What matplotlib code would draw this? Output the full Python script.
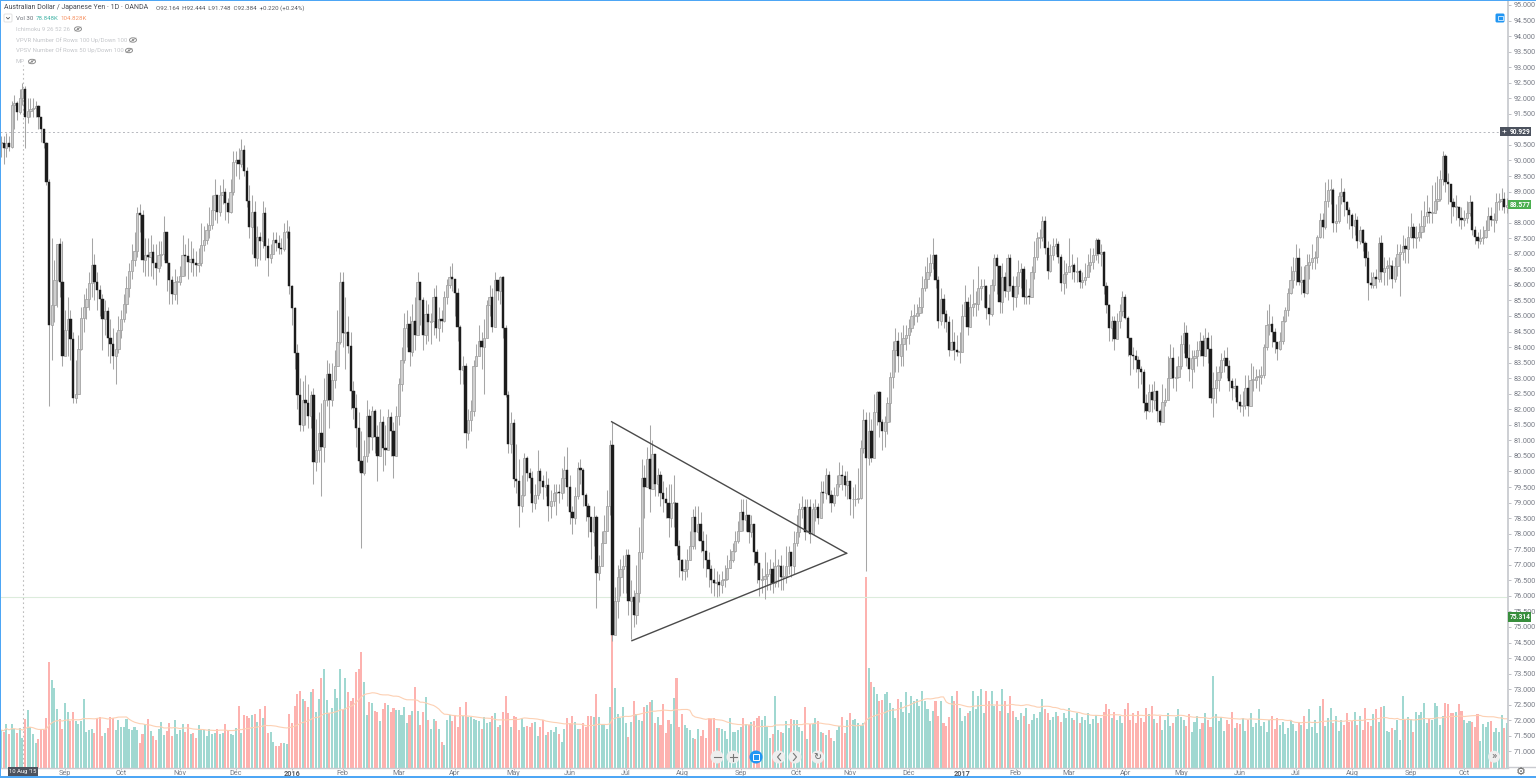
import matplotlib
matplotlib.use("Agg")
import matplotlib.pyplot as plt
import numpy as np
import pandas as pd
from matplotlib.patches import Circle, Ellipse, FancyBboxPatch, Rectangle

FONT = ["Roboto", "DejaVu Sans"]
plt.rcParams["font.family"] = FONT

# AUD/JPY daily, one row per month
closes = [
    90.55, 90.40, 90.55, 90.45, 91.80, 91.85, 91.55, 92.00, 92.30, 91.40, 91.60, 91.65, 91.70, 91.75, 91.40, 91.00, 90.55, 89.30, 84.70, 85.35, 86.15, 87.30, 86.10, 83.70,
    84.55, 84.90, 84.25, 82.35, 82.50, 83.95, 84.95, 85.30, 85.55, 86.05, 86.65, 86.10, 85.85, 85.55, 84.90, 85.15, 84.30, 84.10, 83.70, 83.95, 84.55,
    84.90, 85.40, 85.90, 86.45, 86.80, 87.10, 88.30, 88.25, 86.80, 86.95, 86.90, 87.05, 86.70, 86.55, 86.95, 87.00, 87.70, 86.70, 86.15, 85.70, 86.10, 86.10,
    86.29, 86.96, 86.93, 86.74, 86.83, 86.70, 86.64, 86.70, 87.28, 87.44, 87.77, 87.93, 88.41, 88.89, 88.34, 88.89, 88.99, 88.63, 88.34, 88.99, 89.95,
    90.00, 89.90, 90.35, 89.65, 88.70, 87.85, 88.35, 86.85, 87.55, 87.40, 88.30, 87.25, 86.85, 87.00, 87.45, 87.35, 87.20, 87.15, 87.70, 87.70, 85.95,
    85.25, 83.80, 82.45, 81.50, 82.30, 82.20, 81.80, 82.45, 80.30, 80.70, 81.25, 80.80, 82.30, 83.15, 82.30, 82.95, 83.40, 84.15, 86.10,
    84.45, 84.50, 84.05, 82.60, 82.05, 81.40, 80.35, 79.95, 80.50, 81.80, 81.10, 81.95, 81.10, 80.50, 81.60, 80.75, 80.70, 81.75, 81.30, 80.50, 81.80,
    82.80, 83.60, 84.60, 84.75, 83.85, 84.85, 84.40, 86.10, 85.50, 84.40, 85.05, 84.80, 84.85, 85.60, 84.60, 84.90, 84.85, 85.60, 86.00, 86.25, 86.20,
    85.75, 84.65, 83.25, 83.40, 81.25, 81.65, 81.95, 83.40, 83.70, 84.20, 84.00, 84.30, 85.35, 85.60, 84.65, 86.15, 85.80, 86.25, 84.60, 82.45, 80.90, 81.55,
    79.75, 79.70, 78.90, 79.25, 80.45, 79.95, 79.80, 79.00, 79.25, 80.00, 79.70, 79.50, 79.55, 78.90, 79.05, 79.30, 79.35, 79.30, 79.80, 80.05, 79.50,
    78.70, 78.50, 79.20, 80.10, 80.05, 79.25, 78.90, 78.55, 78.05, 78.55, 76.75, 76.95, 77.70, 78.10, 78.90, 80.85, 74.75, 75.85, 76.60, 76.85, 76.95,
    77.30, 75.85, 75.95, 75.40, 76.10, 77.40, 79.80, 79.50, 80.40, 79.45, 80.55, 79.60, 79.90, 79.30, 79.10, 79.00, 78.50, 79.00, 79.00, 77.60, 77.15,
    76.80, 76.85, 77.15, 77.60, 78.55, 78.05, 78.30, 77.75, 77.45, 77.15, 76.85, 76.50, 76.40, 76.45, 76.35, 76.50, 76.55, 76.90, 77.15, 77.45, 77.75, 78.10,
    78.70, 78.45, 78.60, 78.05, 78.30, 77.40, 77.05, 76.50, 76.55, 76.65, 76.70, 76.85, 76.40, 76.95, 76.95, 76.60, 76.65, 76.95, 77.40, 76.95, 77.70,
    78.05, 78.80, 78.85, 78.05, 78.85, 78.00, 78.80, 78.85, 78.50, 79.35, 79.30, 79.90, 79.25, 79.00, 79.25, 79.60, 79.90, 79.85, 79.55, 79.70,
    79.10, 79.10, 79.10, 79.15, 80.75, 81.65, 80.45, 81.30, 80.45, 81.90, 82.55, 81.60, 81.30, 81.60, 82.20, 83.05, 83.90, 84.20, 83.70, 84.10, 84.30, 84.40,
    84.60, 85.00, 85.00, 85.10, 85.30, 85.90, 86.20, 86.40, 86.70, 86.95, 86.15, 84.85, 85.55, 85.05, 84.80, 83.90, 84.15, 83.90, 83.85, 83.85,
    85.00, 85.45, 84.65, 85.30, 85.40, 85.40, 85.90, 85.95, 85.95, 85.25, 85.05, 86.00, 86.85, 86.60, 85.45, 86.25, 85.80, 86.85, 85.95, 85.60,
    85.95, 86.40, 86.50, 85.60, 85.65, 85.60, 86.40, 86.90, 87.50, 87.55, 88.05, 87.20, 86.45, 86.95, 87.25, 87.30, 86.90, 86.05, 86.35, 86.40,
    86.60, 86.65, 86.40, 86.45, 86.10, 86.15, 86.25, 86.65, 86.75, 86.95, 87.45, 87.00, 87.05, 85.95, 85.35, 84.60, 84.85, 84.25, 84.85, 85.15, 85.60,
    84.95, 84.30, 83.75, 83.70, 83.60, 83.30, 83.20, 82.20, 81.95, 82.55, 82.30, 82.60, 81.95, 81.60, 82.25, 82.30, 83.00, 83.65, 83.00, 83.05, 83.40,
    84.10, 84.45, 83.65, 83.30, 83.65, 83.70, 83.90, 84.20, 83.70, 84.30, 83.95, 82.35, 82.70, 82.95, 83.20, 83.60, 83.65, 83.40, 82.90, 82.70, 82.75, 82.25,
    82.10, 82.15, 82.70, 82.10, 82.95, 82.95, 83.05, 83.05, 83.10, 84.00, 84.70, 84.75, 84.50, 84.15, 83.95, 84.20, 84.85, 85.20, 85.75, 86.15, 86.45,
    86.85, 86.10, 86.15, 85.75, 86.65, 86.75, 86.85, 86.90, 87.55, 88.10, 87.85, 88.70, 89.05, 89.05, 88.00, 88.05, 88.85, 89.00, 88.65, 88.40, 88.25,
    87.90, 88.10, 87.40, 87.75, 87.35, 86.85, 86.05, 86.00, 86.25, 86.20, 87.35, 86.40, 86.55, 86.60, 86.60, 86.20, 86.60, 87.00, 87.05, 87.25, 87.15, 87.55,
    87.85, 87.50, 87.55, 87.70, 87.90, 88.20, 88.35, 88.30, 88.30, 88.70, 88.75, 89.40, 90.15, 89.30, 89.25, 88.65, 88.50, 88.50, 88.15, 88.10,
    88.15, 88.30, 88.65, 87.75, 87.55, 87.40, 87.50, 87.55, 87.75, 88.20, 88.10, 88.10, 88.65, 88.70, 88.75, 88.50, 88.58,
]
highs = [
    90.8, 90.8, 90.9, 90.8, 91.9, 92.1, 91.9, 92.3, 92.5, 92.4, 92.0, 92.0, 92.0, 91.9, 91.8, 91.4, 91.0, 90.6, 89.4, 87.5, 86.8, 87.3, 87.5, 87.4,
    85.2, 85.6, 85.2, 84.5, 83.6, 84.4, 85.3, 85.7, 85.9, 86.4, 87.5, 87.0, 86.4, 86.0, 85.7, 85.5, 85.3, 84.9, 84.6, 84.5, 85.0,
    85.2, 85.7, 86.3, 86.7, 87.3, 87.7, 88.5, 88.6, 88.4, 87.5, 87.5, 87.6, 87.3, 87.3, 87.4, 87.4, 88.2, 87.7, 86.7, 86.3, 86.5, 86.3,
    86.6, 87.6, 87.3, 87.5, 87.4, 87.2, 87.1, 87.2, 88.0, 87.9, 88.0, 88.5, 88.9, 89.4, 88.9, 89.2, 89.4, 89.1, 88.8, 89.4, 90.3,
    90.3, 90.4, 90.7, 90.5, 89.8, 89.2, 88.9, 88.7, 87.9, 87.7, 88.7, 88.5, 87.5, 87.3, 87.7, 87.7, 87.6, 87.5, 88.0, 88.1, 87.9,
    86.0, 85.3, 84.1, 83.0, 82.9, 83.1, 82.8, 82.6, 82.7, 81.7, 81.9, 82.2, 83.0, 83.6, 83.5, 83.5, 83.9, 85.2, 86.4,
    86.4, 85.6, 85.0, 84.5, 82.9, 82.5, 81.9, 81.3, 81.0, 82.3, 82.0, 82.1, 82.0, 81.5, 82.0, 81.8, 81.5, 82.0, 81.9, 81.6, 82.1,
    83.0, 84.0, 85.1, 85.2, 85.0, 85.4, 85.6, 86.4, 85.8, 85.6, 85.5, 85.4, 85.1, 85.9, 86.0, 85.3, 85.2, 85.8, 86.2, 86.6, 86.7,
    86.0, 85.9, 84.7, 83.7, 83.5, 82.0, 82.3, 83.6, 84.1, 84.7, 84.5, 84.9, 85.5, 86.0, 85.9, 86.4, 86.0, 86.3, 86.3, 84.7, 82.6, 81.9,
    81.7, 80.9, 80.4, 79.9, 80.6, 80.5, 80.1, 80.0, 79.6, 80.7, 80.1, 79.9, 80.0, 79.8, 79.4, 79.6, 79.6, 79.6, 80.1, 80.5, 80.8,
    79.9, 78.9, 79.5, 80.3, 80.4, 80.1, 79.3, 79.0, 78.4, 78.9, 78.6, 77.3, 78.1, 78.6, 79.4, 81.0, 81.6, 76.3, 77.0, 77.2, 77.3,
    77.5, 77.5, 76.5, 76.2, 77.0, 78.2, 80.4, 80.2, 80.8, 81.5, 81.0, 80.2, 80.1, 80.0, 79.7, 79.5, 79.6, 79.6, 79.9, 79.0, 77.8,
    77.2, 77.2, 77.5, 78.1, 78.8, 78.9, 78.9, 78.7, 78.1, 78.0, 77.4, 77.0, 76.9, 76.8, 76.7, 76.8, 77.0, 77.3, 77.5, 77.7, 78.1, 78.4,
    79.1, 79.1, 79.1, 78.5, 78.6, 78.3, 77.5, 77.0, 76.9, 77.4, 77.1, 77.2, 77.1, 77.5, 77.2, 77.3, 77.0, 77.6, 77.6, 77.4, 78.1,
    78.6, 79.0, 79.2, 79.1, 79.1, 79.1, 79.0, 79.1, 79.0, 79.7, 79.7, 80.1, 80.0, 79.4, 79.5, 79.9, 80.3, 80.2, 80.0, 80.0,
    79.6, 79.5, 79.6, 80.1, 81.0, 82.0, 81.9, 81.9, 81.7, 82.5, 82.6, 82.6, 81.7, 81.8, 82.4, 83.2, 84.2, 84.6, 84.5, 84.5, 84.7, 84.7,
    84.9, 85.2, 85.4, 85.4, 85.6, 86.3, 86.6, 86.9, 87.0, 87.5, 87.0, 86.3, 85.9, 85.7, 85.2, 85.0, 84.9, 84.5, 84.4, 84.5,
    85.4, 86.0, 85.6, 85.7, 86.2, 85.8, 86.6, 86.2, 86.2, 86.0, 85.7, 86.2, 87.0, 87.0, 86.6, 86.7, 86.4, 87.0, 87.0, 86.3,
    86.3, 86.8, 86.7, 86.6, 86.2, 85.9, 86.6, 87.4, 87.7, 87.8, 88.2, 88.2, 87.4, 87.3, 87.5, 87.5, 87.4, 87.0, 86.8, 86.7,
    87.5, 87.0, 86.7, 86.9, 86.5, 86.4, 86.7, 87.0, 87.2, 87.2, 87.5, 87.5, 87.3, 87.1, 86.1, 85.4, 85.0, 85.0, 85.1, 85.4, 85.8,
    85.7, 85.0, 84.3, 84.0, 83.9, 83.7, 83.4, 83.3, 82.5, 82.8, 82.8, 82.9, 82.5, 82.0, 82.8, 82.7, 83.7, 84.1, 84.0, 83.4, 83.7,
    84.4, 84.8, 84.7, 84.1, 83.9, 83.9, 84.2, 84.5, 84.4, 84.6, 84.5, 84.4, 83.2, 83.4, 83.4, 83.8, 83.9, 84.0, 83.6, 83.0, 83.0, 82.7,
    82.5, 82.6, 83.1, 83.1, 83.5, 83.4, 83.3, 83.3, 83.4, 84.1, 85.2, 85.4, 85.0, 84.6, 84.1, 84.5, 85.0, 85.3, 85.9, 86.6, 86.9,
    87.3, 87.2, 86.6, 86.6, 87.0, 87.0, 87.3, 87.1, 87.6, 88.3, 88.3, 89.3, 89.4, 89.4, 89.1, 88.6, 89.0, 89.45, 89.1, 88.7, 88.5,
    88.3, 88.3, 88.2, 87.9, 87.8, 87.4, 87.1, 86.4, 86.4, 86.5, 87.55, 87.6, 86.9, 86.8, 86.9, 86.8, 86.9, 87.3, 87.3, 87.6, 87.5, 87.9,
    88.3, 88.0, 87.9, 88.0, 88.4, 88.7, 88.9, 88.5, 89.2, 89.3, 89.5, 89.7, 90.3, 90.2, 89.6, 89.2, 88.8, 88.9, 88.5, 88.5,
    88.4, 88.7, 88.9, 88.7, 87.9, 87.7, 87.8, 87.9, 88.1, 88.5, 88.5, 88.3, 88.95, 88.95, 89.1, 89.0, 88.8,
]
lows = [
    90.1, 89.9, 90.1, 90.3, 90.4, 91.0, 91.3, 91.5, 91.8, 90.4, 91.2, 91.4, 91.4, 91.4, 91.0, 90.6, 90.4, 89.2, 82.1, 83.6, 84.8, 85.3, 85.6, 83.4,
    83.9, 83.7, 83.6, 82.2, 82.2, 82.5, 83.9, 84.5, 84.9, 85.2, 85.6, 85.5, 85.2, 85.0, 83.9, 84.4, 83.7, 83.5, 83.3, 82.8, 83.8,
    84.3, 84.8, 85.1, 85.6, 86.2, 86.6, 86.9, 87.7, 86.4, 86.3, 86.3, 86.3, 86.2, 86.0, 86.4, 86.6, 86.8, 85.8, 85.4, 85.4, 85.5, 85.4,
    86.0, 86.3, 86.3, 86.2, 86.4, 86.3, 86.3, 86.4, 86.6, 87.1, 87.3, 87.5, 87.8, 88.1, 88.0, 88.2, 88.6, 88.1, 88.0, 88.3, 88.9,
    89.5, 89.4, 89.8, 89.5, 88.5, 87.5, 87.0, 86.6, 86.6, 86.8, 87.2, 86.8, 86.3, 86.7, 87.0, 87.1, 87.0, 87.0, 87.1, 87.5, 85.7,
    84.7, 83.3, 82.0, 81.3, 81.3, 81.5, 81.4, 81.4, 79.6, 80.0, 80.3, 79.2, 80.3, 82.1, 81.4, 82.1, 82.7, 83.6, 84.1,
    84.0, 83.3, 83.8, 82.0, 81.7, 80.8, 80.0, 77.55, 79.9, 80.3, 80.6, 80.7, 80.6, 79.7, 80.8, 80.0, 80.2, 80.9, 80.5, 79.8, 80.5,
    81.5, 82.6, 83.5, 84.0, 83.4, 83.7, 83.9, 84.9, 84.7, 83.9, 84.1, 84.2, 84.1, 84.4, 84.3, 84.2, 84.5, 84.8, 85.4, 85.9, 85.8,
    85.0, 84.2, 82.8, 82.8, 80.75, 81.0, 81.3, 81.8, 83.4, 83.9, 83.3, 82.5, 84.7, 85.0, 84.5, 85.0, 85.5, 85.4, 84.3, 82.4, 80.6, 80.6,
    79.5, 79.3, 78.2, 78.7, 79.2, 79.7, 79.3, 78.7, 78.8, 79.1, 79.3, 79.1, 79.2, 78.4, 78.5, 78.9, 78.6, 79.0, 79.1, 79.3, 78.9,
    78.3, 78.0, 78.3, 79.1, 79.6, 78.9, 78.4, 77.9, 77.2, 77.6, 75.6, 76.5, 77.4, 77.7, 78.4, 78.6, 74.55, 74.8, 75.3, 76.0, 76.1,
    76.1, 75.4, 74.6, 75.0, 75.1, 75.8, 77.2, 78.5, 79.5, 78.7, 79.5, 79.2, 79.2, 78.9, 78.7, 78.5, 77.9, 78.2, 78.2, 77.3, 76.6,
    76.5, 76.5, 76.6, 77.2, 77.5, 77.5, 77.8, 77.4, 76.9, 76.6, 76.3, 76.1, 76.0, 75.95, 76.0, 76.1, 76.3, 76.5, 76.9, 77.1, 77.4, 77.7,
    78.3, 78.1, 78.1, 77.7, 77.9, 77.0, 76.4, 76.0, 76.1, 75.9, 76.2, 76.2, 76.1, 76.3, 76.3, 76.2, 76.2, 76.4, 76.7, 76.6, 76.7,
    77.6, 77.9, 78.5, 77.8, 78.2, 77.7, 78.4, 78.4, 78.3, 78.7, 79.0, 79.1, 79.0, 78.7, 78.9, 79.2, 79.5, 79.4, 79.2, 79.1,
    78.6, 78.5, 78.9, 79.0, 79.1, 80.6, 76.8, 80.2, 80.3, 80.5, 81.5, 81.1, 80.7, 80.8, 81.2, 81.6, 82.7, 83.2, 83.2, 83.4, 83.4, 83.9,
    84.1, 84.5, 84.7, 84.8, 85.0, 85.1, 85.8, 85.9, 86.3, 86.5, 85.9, 84.6, 84.7, 84.6, 84.5, 83.7, 83.9, 83.6, 83.7, 83.5,
    84.5, 85.0, 84.4, 84.8, 85.0, 85.0, 85.2, 85.5, 85.3, 84.9, 84.7, 85.0, 85.8, 85.7, 85.1, 85.1, 85.6, 85.5, 85.8, 85.2,
    85.3, 85.7, 85.9, 85.4, 85.4, 85.4, 85.6, 86.2, 86.8, 87.2, 87.4, 87.0, 86.2, 86.4, 86.8, 87.0, 86.7, 85.8, 85.7, 85.9,
    86.4, 86.2, 86.1, 86.1, 85.9, 85.9, 86.0, 86.3, 86.4, 86.5, 86.8, 86.7, 86.6, 85.7, 85.1, 84.2, 84.2, 83.9, 84.4, 84.6, 85.0,
    84.9, 83.7, 83.1, 83.3, 83.2, 82.7, 82.8, 81.9, 81.7, 81.9, 81.9, 82.0, 81.6, 81.5, 81.7, 82.1, 82.6, 83.0, 82.7, 82.6, 83.0,
    83.3, 83.8, 83.4, 82.9, 82.7, 83.2, 83.4, 83.7, 83.4, 83.7, 83.5, 82.2, 81.75, 82.2, 82.6, 83.0, 83.2, 83.0, 82.6, 82.3, 82.4, 82.0,
    81.9, 81.8, 82.0, 81.8, 82.2, 82.6, 82.7, 82.6, 82.8, 83.0, 83.9, 84.4, 84.0, 83.8, 83.6, 83.9, 84.1, 84.8, 85.0, 85.7, 85.9,
    86.0, 86.0, 85.7, 85.6, 85.7, 86.2, 86.5, 86.5, 86.7, 87.5, 87.5, 87.8, 88.5, 88.6, 87.7, 87.7, 88.0, 88.6, 88.2, 88.0, 87.8,
    87.5, 87.6, 87.2, 87.3, 87.1, 86.6, 85.5, 85.9, 85.9, 85.9, 86.1, 86.1, 86.0, 86.0, 86.2, 85.9, 86.1, 86.3, 85.65, 86.8, 86.7, 86.7,
    87.5, 87.2, 87.2, 87.4, 87.5, 87.7, 88.0, 88.0, 88.0, 88.3, 88.4, 88.7, 89.2, 89.0, 88.6, 88.0, 88.2, 88.1, 87.9, 87.8,
    87.9, 88.0, 88.2, 87.6, 87.3, 87.2, 87.3, 87.3, 87.5, 87.8, 87.9, 87.7, 88.0, 88.4, 88.4, 88.3, 88.3,
]
# volume in thousands
volumes = [
    75, 72, 87, 67, 87, 78, 70, 79, 59, 97, 115, 81, 68, 50, 57, 77, 75, 100, 212, 175, 159, 118, 97, 77,
    130, 112, 93, 112, 93, 88, 93, 137, 72, 75, 77, 70, 99, 101, 63, 70, 79, 101, 100, 75, 95,
    81, 81, 97, 77, 75, 81, 75, 50, 68, 88, 97, 73, 63, 55, 77, 91, 65, 73, 90, 63, 95, 67,
    75, 88, 72, 87, 68, 69, 60, 85, 77, 75, 63, 77, 67, 70, 77, 67, 70, 87, 75, 68, 65,
    79, 123, 70, 105, 103, 99, 105, 108, 92, 117, 99, 123, 70, 72, 51, 43, 43, 50, 50, 47, 107,
    90, 124, 147, 154, 137, 133, 122, 152, 157, 112, 137, 179, 197, 135, 109, 120, 157, 139, 197,
    115, 179, 151, 133, 140, 192, 197, 232, 172, 105, 131, 129, 114, 112, 94, 117, 129, 125, 111, 119, 115,
    115, 105, 121, 89, 105, 113, 162, 113, 85, 112, 142, 95, 77, 97, 94, 77, 52, 45, 95, 105, 93,
    105, 82, 121, 104, 131, 102, 102, 97, 95, 93, 77, 102, 89, 92, 104, 109, 82, 85, 112, 143, 109, 82,
    104, 102, 75, 100, 82, 84, 82, 89, 92, 63, 82, 95, 65, 71, 75, 72, 82, 67, 51, 77, 100,
    89, 104, 91, 77, 77, 89, 82, 104, 104, 102, 147, 102, 85, 85, 77, 122, 364, 159, 107, 99, 121,
    89, 62, 92, 133, 107, 95, 93, 122, 125, 132, 135, 89, 102, 85, 127, 69, 95, 87, 140, 179, 81,
    107, 85, 80, 75, 59, 57, 77, 63, 75, 60, 100, 97, 99, 79, 80, 77, 73, 57, 100, 72, 71, 75,
    82, 100, 87, 85, 92, 93, 100, 104, 95, 104, 82, 60, 67, 144, 75, 72, 69, 93, 79, 97, 95,
    95, 82, 74, 121, 57, 87, 87, 100, 93, 71, 69, 65, 75, 60, 53, 75, 84, 102, 69, 95,
    109, 95, 97, 89, 84, 90, 382, 199, 172, 162, 147, 133, 135, 147, 151, 129, 120, 99, 137, 132, 111, 152,
    110, 144, 134, 138, 124, 154, 134, 118, 94, 114, 134, 104, 134, 90, 84, 102, 144, 134, 154, 120,
    94, 104, 110, 114, 154, 118, 144, 158, 110, 154, 134, 154, 124, 134, 114, 158, 134, 110, 144, 114,
    102, 96, 110, 104, 120, 88, 96, 108, 100, 112, 138, 118, 110, 96, 102, 112, 104, 92, 110, 100,
    120, 100, 95, 110, 90, 102, 96, 110, 88, 98, 106, 90, 100, 112, 128, 118, 100, 112, 96, 104, 90,
    118, 130, 96, 110, 90, 114, 100, 92, 120, 108, 124, 98, 90, 104, 76, 96, 110, 84, 90, 102, 118,
    102, 96, 84, 108, 72, 92, 104, 78, 90, 110, 96, 82, 184, 108, 94, 102, 74, 96, 88, 112, 80, 90,
    88, 100, 74, 96, 110, 82, 90, 118, 84, 92, 72, 96, 104, 78, 100, 86, 92, 68, 80, 96, 88,
    74, 92, 86, 104, 78, 118, 82, 96, 70, 124, 138, 84, 100, 120, 90, 104, 74, 96, 86, 110, 92,
    94, 112, 86, 104, 76, 120, 92, 84, 108, 118, 92, 122, 124, 73, 71, 80, 75, 95, 55, 144, 95, 102,
    97, 71, 111, 105, 111, 129, 89, 97, 95, 130, 124, 85, 104, 129, 127, 109, 109, 111, 127, 113,
    95, 89, 93, 92, 82, 107, 54, 87, 82, 92, 94, 71, 80, 71, 105, 80, 89,
]
first_open = 90.55

month_labels = ["Sep", "Oct", "Nov", "Dec", "2016", "Feb", "Mar", "Apr", "May", "Jun", "Jul", "Aug", "Sep",
                "Oct", "Nov", "Dec", "2017", "Feb", "Mar", "Apr", "May", "Jun", "Jul", "Aug", "Sep", "Oct"]
month_bars = [24, 21, 22, 21, 21, 19, 21, 21, 22, 21, 21, 21, 22, 21, 20, 22, 20, 20, 20, 21, 21, 22, 21, 21, 22, 20]

# triangle drawn on the chart: bar index, price
triangle_bars = [228.7, 316.7, 236.3]
triangle_prices = [81.6, 77.37, 74.56]
level_high = 90.929
level_low = 75.97
cross_bar = 8.2

PX_PER_BAR = 2.67
W, H = 1536, 778
PLOT_RIGHT = 1508
PLOT_BOTTOM = 767.5
TICK_COLOR = "#777b85"
TEAL = "#a0d8d1"
RED = "#fdb2af"


def setup_axes(fig):
    pos = [0, (H - PLOT_BOTTOM) / H, PLOT_RIGHT / W, PLOT_BOTTOM / H]
    xlim = (-1 / PX_PER_BAR, (PLOT_RIGHT - 1) / PX_PER_BAR)

    ax_vol = fig.add_axes(pos, zorder=1)
    ax_vol.set_xlim(xlim)
    ax_vol.set_ylim(0, PLOT_BOTTOM * 2)
    ax_vol.axis("off")

    ax = fig.add_axes(pos, zorder=2)
    ax.patch.set_alpha(0)
    ax.set_xlim(xlim)
    ax.set_ylim(95 - (PLOT_BOTTOM - 5) / 31.1, 95 + 5 / 31.1)
    return ax, ax_vol


def draw_volume(ax_vol, x, up):
    vol = pd.Series(volumes, dtype=float)
    ax_vol.bar(x, vol, width=0.76, color=np.where(up, TEAL, RED), linewidth=0)
    ax_vol.plot(x, vol.rolling(30, min_periods=1).mean(), color="#fdd0b3", lw=0.8)


def draw_candles(ax, x, o, c, up):
    ax.vlines(x, lows, highs, color="#a6a6a6", lw=0.75, zorder=3)
    bottom = np.minimum(o, c)
    height = np.maximum(np.abs(c - o), 0.03)
    ax.bar(x[up], height[up], bottom=bottom[up], width=0.85, color="#cfcfcf",
           edgecolor="#a4a4a4", linewidth=0.6, zorder=4)
    ax.bar(x[~up], height[~up], bottom=bottom[~up], width=0.85, color="#1c1c1c",
           edgecolor="#1c1c1c", linewidth=0.3, zorder=4)


def style_axes(ax):
    for side in ("top", "left"):
        ax.spines[side].set_visible(False)
    ax.spines["right"].set_color("#c9cbd0")
    ax.spines["right"].set_linewidth(1.3)
    ax.spines["bottom"].set_color("#c9cbd0")
    ax.spines["bottom"].set_linewidth(1.0)

    ax.yaxis.tick_right()
    yticks = np.arange(71, 95.5, 0.5)
    ax.set_yticks(yticks)
    # 91.000 and 88.500 sit under the price tags in the original
    ax.set_yticklabels(["" if v in (91.0, 88.5) else f"{v:.3f}" for v in yticks])
    ax.tick_params(axis="y", length=2.5, width=0.6, color="#b5b7bd", labelcolor=TICK_COLOR,
                   labelsize=5.2, pad=1.5)

    ax.set_xticks(np.cumsum(month_bars))
    ax.set_xticklabels(month_labels)
    ax.tick_params(axis="x", length=1.5, width=0.6, color="#b5b7bd", labelcolor=TICK_COLOR,
                   labelsize=5.2, pad=0.2)
    for lab in ax.get_xticklabels():
        if lab.get_text() in ("2016", "2017"):
            lab.set_fontweight("bold")
            lab.set_color("#55585f")


def eye(ui, x, y):
    ui.add_patch(Ellipse((x, y), 7, 4.4, fc="none", ec="#8f8f8f", lw=0.7))
    ui.add_patch(Circle((x, y), 1.1, fc="#8f8f8f", ec="none"))
    ui.plot([x - 3, x + 3], [y + 2, y - 2], color="#8f8f8f", lw=0.5)


def price_tag(ui, y, text, color, left=1508):
    ui.add_patch(Rectangle((left, y - 4.8), 1531 - left, 9.6, fc=color, ec="none", zorder=6))
    ui.text(1520, y, text, color="white", fontsize=4.8, fontweight="bold", ha="center", va="center", zorder=7)


def round_button(ui, x, y, fc="#eeeeee", r=6.5):
    ui.add_patch(Circle((x, y), r, fc=fc, ec="none", zorder=5))


def draw_ui(fig):
    ui = fig.add_axes([0, 0, 1, 1], zorder=5)
    ui.set_xlim(0, W)
    ui.set_ylim(H, 0)
    ui.axis("off")

    # frame of the screenshot
    ui.add_patch(Rectangle((0, 0), W, 1.4, fc="#4da6f5", ec="none", zorder=8))
    ui.add_patch(Rectangle((0, 0), 1.4, H, fc="#4da6f5", ec="none", zorder=8))
    ui.add_patch(Rectangle((0, H - 1.8), W, 1.8, fc="#4da6f5", ec="none", zorder=8))

    # header
    ui.text(4, 7.5, "Australian Dollar / Japanese Yen · 1D · OANDA", fontsize=5.0, color="#4a4d55", va="center")
    ui.text(156, 8, "O92.164  H92.444  L91.748  C92.384  +0.220 (+0.24%)", fontsize=4.4, color="#55585f", va="center")

    ui.add_patch(FancyBboxPatch((4, 14), 8, 8, boxstyle="round,pad=0,rounding_size=1", fc="white", ec="#dddddd", lw=0.6))
    ui.plot([6.5, 8, 9.5], [17.5, 19, 17.5], color="#555555", lw=0.6)
    ui.text(16, 18.5, "Vol 30", fontsize=4.4, color="#6a6d75", va="center")
    ui.text(36, 18.5, "78.848K", fontsize=4.4, color="#45b5a8", va="center")
    ui.text(60, 18.5, "104.828K", fontsize=4.4, color="#f7976a", va="center")

    rows = [("Ichimoku 9 26 52 26", 29, 78), ("VPVR Number Of Rows 100 Up/Down 100", 40, 133),
            ("VPSV Number Of Rows 50 Up/Down 100", 50.5, 129), ("MP", 61.5, 32)]
    for text, y, eye_x in rows:
        ui.text(16, y, text, fontsize=4.3, color="#c4c6ca", va="center")
        eye(ui, eye_x, y)

    # blue fullscreen button
    ui.add_patch(FancyBboxPatch((1495.5, 13.5), 9, 9, boxstyle="round,pad=0,rounding_size=1.5", fc="#2196f3", ec="none", zorder=6))
    ui.add_patch(Rectangle((1497.5, 16), 5, 4, fc="none", ec="white", lw=0.5, zorder=7))

    # price tags on the right scale
    price_tag(ui, 131.5, "90.929", "#4c525e", left=1500)
    ui.text(1504, 131.5, "+", color="white", fontsize=6, ha="center", va="center", zorder=7)
    price_tag(ui, 204.5, "88.577", "#4caf50")
    price_tag(ui, 617, "75.314", "#388e3c")

    # date tag under the crosshair
    ui.add_patch(Rectangle((8, 766.5), 29.5, 9.5, fc="#4c525e", ec="none", zorder=6))
    ui.text(22.7, 771.2, "10 Aug '15", color="white", fontsize=4.2, ha="center", va="center", zorder=7)

    # bottom toolbar
    for bx in (717, 733, 778.7, 795, 817.7):
        round_button(ui, bx, 757)
    round_button(ui, 756, 757, fc="#2196f3")
    ui.plot([713.5, 720.5], [757, 757], color="#777777", lw=0.8, zorder=6)
    ui.plot([729.5, 736.5], [757, 757], color="#777777", lw=0.8, zorder=6)
    ui.plot([733, 733], [753.5, 760.5], color="#777777", lw=0.8, zorder=6)
    ui.plot([780.5, 777.5, 780.5], [753.5, 757, 760.5], color="#777777", lw=0.8, zorder=6)
    ui.plot([793.5, 796.5, 793.5], [753.5, 757, 760.5], color="#777777", lw=0.8, zorder=6)
    ui.add_patch(Rectangle((753, 754), 6, 6, fc="none", ec="white", lw=0.7, zorder=6))
    ui.text(817.7, 756.8, "↻", fontsize=7, color="#666666", ha="center", va="center", family="DejaVu Sans", zorder=6)
    round_button(ui, 1494, 756.7, r=6)
    ui.text(1494, 756.3, "»", fontsize=8, color="#666666", ha="center", va="center", zorder=6)
    ui.text(1521, 772, "⚙", fontsize=8, color="#666666", ha="center", va="center", family="DejaVu Sans", zorder=6)
    ui.plot([1508, 1536], [766.5, 766.5], color="#c9cbd0", lw=1.0)


def main():
    n = min(len(closes), len(highs), len(lows), len(volumes))
    x = np.arange(n)
    c = np.array(closes[:n])
    o = np.r_[first_open, c[:-1]]
    up = c >= o

    fig = plt.figure(figsize=(W / 100, H / 100), dpi=100, facecolor="white")
    ax, ax_vol = setup_axes(fig)
    draw_volume(ax_vol, x, up)

    ax.axhline(level_high, color="#b5b7bd", lw=0.7, ls=(0, (2, 2.5)), zorder=2)
    ax.axhline(level_low, color="#dcecdc", lw=0.8, zorder=2)
    # crosshair stops under the legend block
    ax.axvline(cross_bar, ymax=0.915, color="#bcbcbc", lw=0.8, ls=(0, (1.5, 2.5)), zorder=2)

    draw_candles(ax, x, o, c, up)
    ax.plot(triangle_bars[:2], triangle_prices[:2], color="#4a4a4a", lw=1.0, zorder=5)
    ax.plot(triangle_bars[1:], triangle_prices[1:], color="#4a4a4a", lw=1.0, zorder=5)
    ax.set_xlim(-1 / PX_PER_BAR, (PLOT_RIGHT - 1) / PX_PER_BAR)

    style_axes(ax)
    draw_ui(fig)
    fig.savefig("out.png", dpi=100)


if __name__ == "__main__":
    main()
